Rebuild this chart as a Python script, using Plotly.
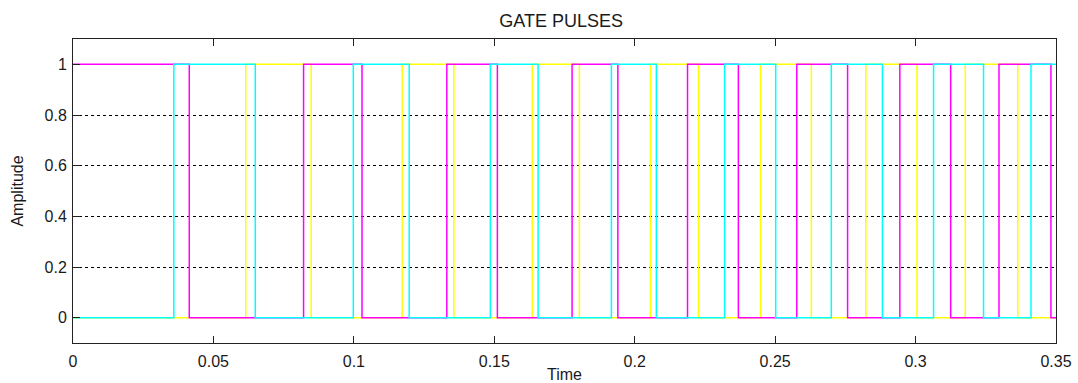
import plotly.graph_objects as go

# Switching instants (s) of the three gate signals and their level at t = 0
t_end = 0.35

magenta_start = 1
magenta_switch = [0.0414, 0.0821, 0.1029, 0.1331, 0.1511, 0.1777, 0.1940, 0.2188,
                  0.2369, 0.2577, 0.2758, 0.2944, 0.3125, 0.3297, 0.3482]

yellow_start = 0
yellow_switch = [0.0615, 0.0848, 0.1172, 0.1356, 0.1635, 0.1803, 0.2056, 0.2227,
                 0.2448, 0.2629, 0.2823, 0.3005, 0.3177, 0.3364]

cyan_start = 0
cyan_switch = [0.0359, 0.0649, 0.0998, 0.1197, 0.1486, 0.1656, 0.1917, 0.2077,
               0.2320, 0.2502, 0.2700, 0.2882, 0.3064, 0.3242, 0.3411]

y_ticks = [0, 0.2, 0.4, 0.6, 0.8, 1]
y_labels = ["0", "0.2", "0.4", "0.6", "0.8", "1"]
x_ticks = [0, 0.05, 0.1, 0.15, 0.2, 0.25, 0.3, 0.35]
x_labels = ["0", "0.05", "0.1", "0.15", "0.2", "0.25", "0.3", "0.35"]


def pulse_train(start, switches, end):
    """Return x/y points of a 0/1 pulse train for an 'hv' step line."""
    xs, ys = [0.0], [start]
    level = start
    for t in switches:
        level = 1 - level
        xs.append(t)
        ys.append(level)
    xs.append(end)
    ys.append(level)
    return xs, ys


fig = go.Figure()
for name, start, sw, color in [
    ("yellow", yellow_start, yellow_switch, "#ffff00"),
    ("magenta", magenta_start, magenta_switch, "#ff00ff"),
    ("cyan", cyan_start, cyan_switch, "#00ffff"),
]:
    xs, ys = pulse_train(start, sw, t_end)
    fig.add_trace(go.Scatter(x=xs, y=ys, mode="lines", name=name,
                             line=dict(color=color, width=1.5, shape="hv"),
                             showlegend=False))

font_family = "Liberation Sans, Arial, sans-serif"
fig.update_layout(
    width=1078, height=383,
    margin=dict(l=73, r=22, t=39, b=40, autoexpand=False),
    paper_bgcolor="white", plot_bgcolor="white",
    font=dict(family=font_family, color="#1a1a1a", size=15),
    title=dict(text="GATE PULSES", x=0.5205, xref="container", xanchor="center",
               y=1 - 20.5 / 383, yref="container", yanchor="middle",
               font=dict(size=18, color="#1a1a1a")),
)
fig.update_xaxes(
    range=[0, t_end], tickvals=x_ticks, ticktext=x_labels,
    showgrid=False, zeroline=False, automargin=False,
    showline=True, linecolor="#222", linewidth=1, mirror="ticks",
    ticks="inside", ticklen=7, tickcolor="#222",
    tickfont=dict(size=16), ticklabelstandoff=4,
    title=dict(text="Time", font=dict(size=16), standoff=5),
)
fig.update_yaxes(
    range=[-0.1, 1.1], tickvals=y_ticks, ticktext=y_labels,
    showgrid=True, gridcolor="black", gridwidth=1, griddash="3px,3px",
    zeroline=False, automargin=False,
    showline=True, linecolor="#222", linewidth=1, mirror=True,
    ticks="inside", ticklen=7, tickcolor="#222",
    tickfont=dict(size=16), ticklabelstandoff=2,
    title=dict(text="Amplitude", font=dict(size=16), standoff=16),
)

fig.write_html("out.html")
